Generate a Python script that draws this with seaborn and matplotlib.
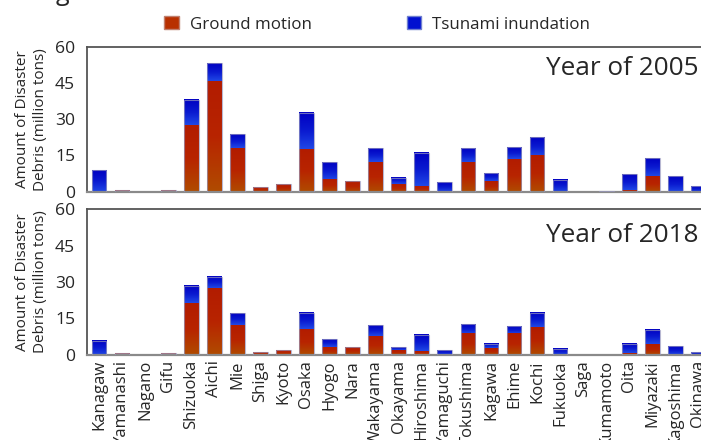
import numpy as np
import pandas as pd
import seaborn as sns
import matplotlib.pyplot as plt
from matplotlib.colors import LinearSegmentedColormap
from matplotlib.patches import Patch

# prefecture names as printed on the x axis
prefs = ["Kanagaw", "Yamanashi", "Nagano", "Gifu", "Shizuoka", "Aichi", "Mie",
         "Shiga", "Kyoto", "Osaka", "Hyogo", "Nara", "Wakayama", "Okayama",
         "Hiroshima", "Yamaguchi", "Tokushima", "Kagawa", "Ehime", "Kochi",
         "Fukuoka", "Saga", "Kumamoto", "Oita", "Miyazaki", "Kagoshima", "Okinawa"]

# million tons
ground_2005 = [0, 0.7, 0, 0.7, 27.7, 45.8, 18.1, 1.9, 3.2, 17.5, 5.0, 4.4, 12.4, 3.2,
               2.2, 0, 12.3, 4.4, 13.4, 14.9, 0, 0, 0, 0.7, 6.6, 0, 0]
tsunami_2005 = [9.1, 0, 0, 0, 10.4, 7.4, 5.6, 0, 0, 14.9, 7.3, 0, 5.7, 2.5,
                13.7, 3.9, 5.6, 3.3, 4.9, 7.6, 5.0, 0, 0.3, 6.6, 7.3, 6.6, 2.2]
ground_2018 = [0, 0.55, 0, 0.55, 21.2, 27.5, 12.3, 1.0, 1.9, 10.5, 3.2, 3.0, 7.7, 1.9,
               1.4, 0, 8.7, 2.6, 8.7, 11.3, 0, 0, 0, 0.55, 4.3, 0, 0]
tsunami_2018 = [5.8, 0, 0, 0, 7.3, 4.6, 4.9, 0, 0, 6.7, 3.1, 0, 4.4, 1.1,
                6.9, 1.8, 3.8, 1.9, 3.0, 5.9, 2.5, 0, 0, 3.75, 5.9, 3.4, 1.1]

yticks = [0, 15, 30, 45, 60]

sns.set_style("white")
plt.rcParams['font.family'] = ['Open Sans', 'DejaVu Sans']

ground_cmap = LinearSegmentedColormap.from_list("g", ["#b04c00", "#b82400", "#b21c00"])
tsunami_cmap = LinearSegmentedColormap.from_list("t", ["#2048e6", "#0a1ad0", "#0000c2"])
grad = np.linspace(0, 1, 256).reshape(-1, 1)

fig = plt.figure(figsize=(7.01, 4.40), dpi=100)
ax1 = fig.add_axes([0.1241, 0.5643, 0.8887, 0.3296])
ax2 = fig.add_axes([0.1241, 0.1939, 0.8887, 0.3305])


def draw_panel(ax, ground, tsunami, year, ytxt):
    total = [g + t for g, t in zip(ground, tsunami)]
    df = pd.DataFrame({"pref": prefs, "ground": ground, "total": total})
    sns.barplot(data=df, x="pref", y="total", ax=ax, color="#0010d0",
                width=0.64, saturation=1, errorbar=None)
    n = len(ax.patches)
    sns.barplot(data=df, x="pref", y="ground", ax=ax, color="#b83000",
                width=0.64, saturation=1, errorbar=None)
    tot_bars = ax.patches[:n]
    gr_bars = ax.patches[n:]
    for tb, gb in zip(tot_bars, gr_bars):
        x0, w = tb.get_x(), tb.get_width()
        gh, th = gb.get_height(), tb.get_height()
        if th - gh > 0:
            ax.imshow(grad, cmap=tsunami_cmap, origin="lower", aspect="auto",
                      extent=[x0, x0 + w, gh, th], zorder=2, interpolation="bilinear")
        if gh > 0:
            ax.imshow(grad, cmap=ground_cmap, origin="lower", aspect="auto",
                      extent=[x0, x0 + w, 0, gh], zorder=2.5, interpolation="bilinear")
        gb.set_visible(False)
        tb.set_facecolor("none")
        tb.set_edgecolor((0.6, 0.6, 0.75, 0.7))
        tb.set_linewidth(0.8)
        tb.set_zorder(3)
        if th <= 0:
            tb.set_visible(False)
    ax.set_xlim(-0.52, 26.5)
    ax.set_ylim(0, 60)
    ax.set_yticks(yticks)
    ax.tick_params(axis="y", labelsize=12.6, length=0, pad=8.5)
    ax.set_ylabel("Amount of Disaster\nDebris (million tons)", fontsize=11,
                  linespacing=1.3, labelpad=5)
    ax.set_xlabel("")
    for s in ["top", "left", "right"]:
        ax.spines[s].set_color("#555555")
        ax.spines[s].set_linewidth(1.3)
    ax.spines["bottom"].set_color("#8a8a8a")
    ax.spines["bottom"].set_linewidth(1.6)
    ax.text(0.981, ytxt, f"Year of {year}", transform=ax.transAxes,
            ha="right", va="baseline", fontsize=18.8)


draw_panel(ax1, ground_2005, tsunami_2005, 2005, 0.805)
draw_panel(ax2, ground_2018, tsunami_2018, 2018, 0.777)

ax1.set_xticks(range(len(prefs)))
ax1.set_xticklabels([])
ax1.tick_params(axis="x", length=0)
ax2.set_xticks(range(len(prefs)))
ax2.set_xticklabels(prefs, rotation=90, fontsize=12)
ax2.tick_params(axis="x", length=0, pad=4)

handles = [Patch(facecolor="#b83000", edgecolor="#c08070", label="Ground motion"),
           Patch(facecolor="#0010d0", edgecolor="#7080d0", label="Tsunami inundation")]
fig.legend(handles=handles, loc="center", bbox_to_anchor=(0.538, 0.945), ncol=2,
           frameon=False, fontsize=12.2, handlelength=0.85, handleheight=0.85,
           columnspacing=5.6, handletextpad=0.65)

# descender of a caption line cropped off above the figure
fig.text(0.079, 1.0, "g", va="baseline", fontsize=18)

fig.savefig("out.png", dpi=100)
